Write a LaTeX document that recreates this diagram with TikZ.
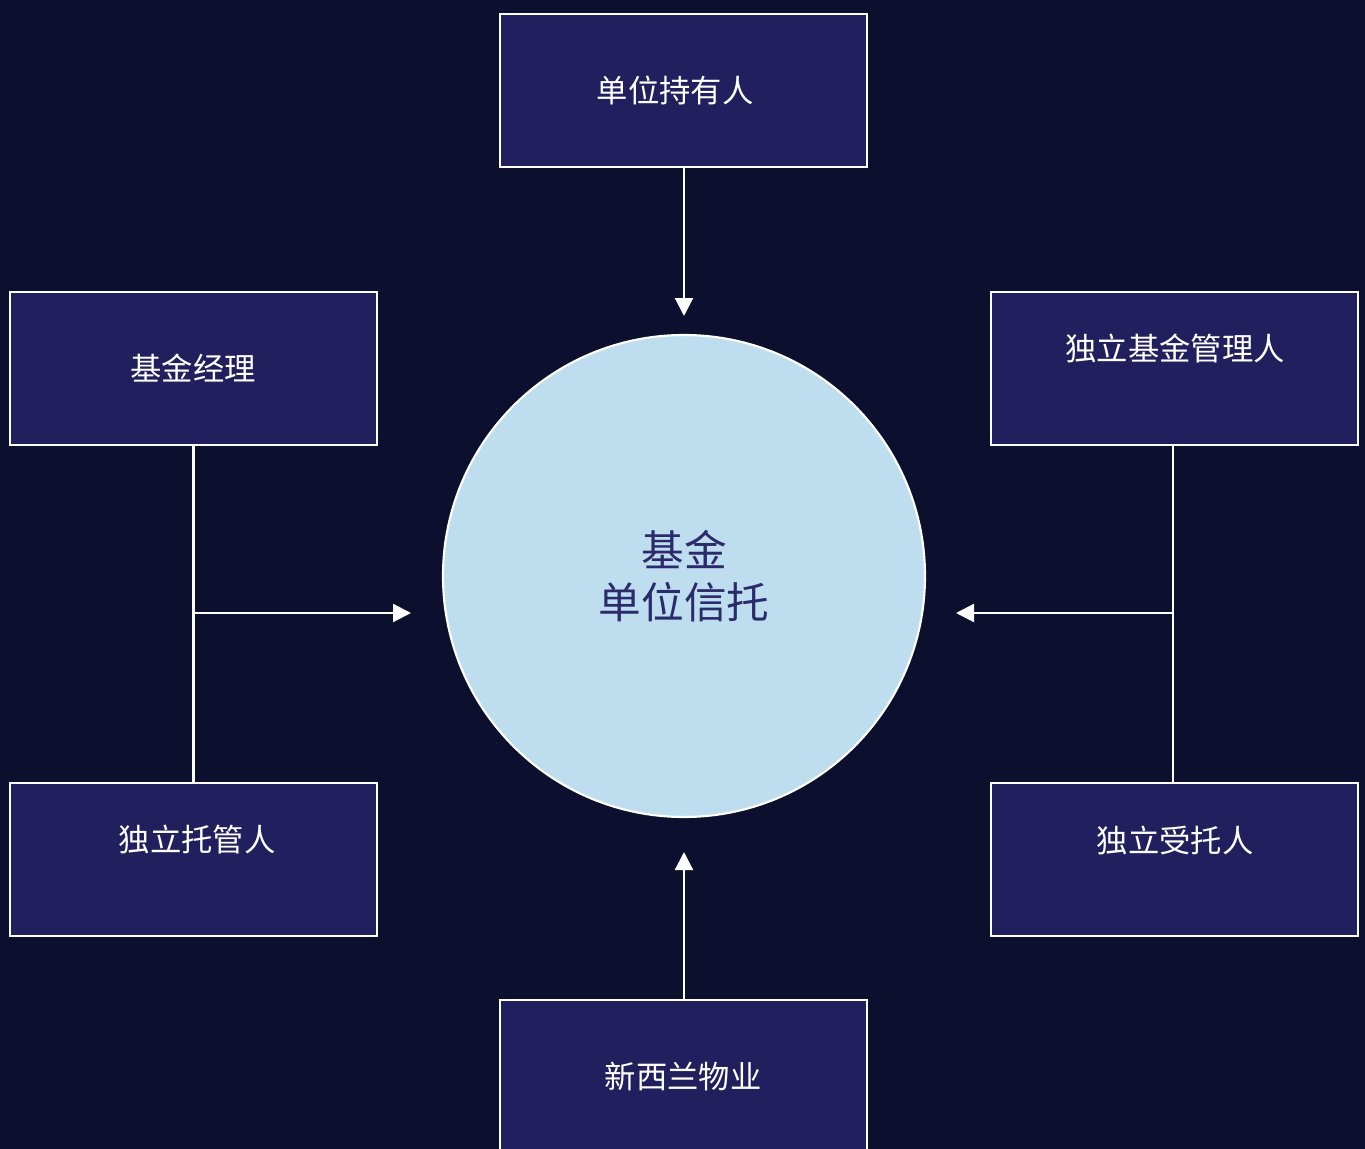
\documentclass[tikz,border=0pt]{standalone}
\usepackage{fontspec}
\newfontfamily\cjk{Noto Sans CJK SC}
\usetikzlibrary{arrows.meta}
\definecolor{bgc}{HTML}{0C0F2E}
\definecolor{boxc}{HTML}{221F5F}
\definecolor{circc}{HTML}{BEDDEE}
\definecolor{circt}{HTML}{2B2A6B}
\tikzset{
  pbox/.style={draw=white, line width=1.6pt, fill=boxc, minimum width=275.25pt, minimum height=114.75pt, inner sep=0pt},
  ptext/.style={text=white, font=\cjk\fontsize{23.5}{28}\selectfont, inner sep=0pt},
  conn/.style={draw=white, line width=1.6pt},
  arr/.style={conn, -{Triangle[length=13.5pt,width=13.5pt]}},
}
\begin{document}
\begin{tikzpicture}[x=0.75pt,y=-0.75pt]
\fill[bgc] (0,0) rectangle (1365,1149);
\useasboundingbox (0,0) rectangle (1365,1149);
\begin{scope}
\clip (0,0) rectangle (1365,1149);
\node[pbox] (top) at (683.5,90.5) {};
\node[pbox] (lt) at (193.5,368.5) {};
\node[pbox] (rt) at (1174.5,368.5) {};
\node[pbox] (lb) at (193.5,859.5) {};
\node[pbox] (rb) at (1174.5,859.5) {};
\node[pbox] (bot) at (683.5,1076.5) {};
\end{scope}
\node[ptext] (ttop) at (675,90) {单位持有人};
\node[ptext] (tlt) at (193,368) {基金经理};
\node[ptext] (trt) at (1175,348) {独立基金管理人};
\node[ptext] (tlb) at (197,840) {独立托管人};
\node[ptext] (trb) at (1175,840) {独立受托人};
\node[ptext] (tbot) at (683,1077) {新西兰物业};
\node[circle, draw=white, line width=1.6pt, fill=circc, minimum size=361.5pt, inner sep=0pt] (c) at (684,576) {};
\node[text=circt, font=\cjk\fontsize{32}{39}\selectfont, align=center, inner sep=0pt] (ctext) at (684,576) {基金\\单位信托};
\coordinate (atop) at (684,316);
\coordinate (abot) at (684,852);
\coordinate (aleft) at (411,613);
\coordinate (aright) at (956,613);
\coordinate (jl) at (193,613);
\coordinate (jr) at (1173,613);
\draw[arr] (top.south -| atop) -- (atop);
\draw[arr] (bot.north -| abot) -- (abot);
\draw[conn] (lt.south) -- (lb.north);
\draw[conn] (rt.south -| jr) -- (rb.north -| jr);
\draw[arr] (jl) -- (aleft);
\draw[arr] (jr) -- (aright);
\end{tikzpicture}
\end{document}
